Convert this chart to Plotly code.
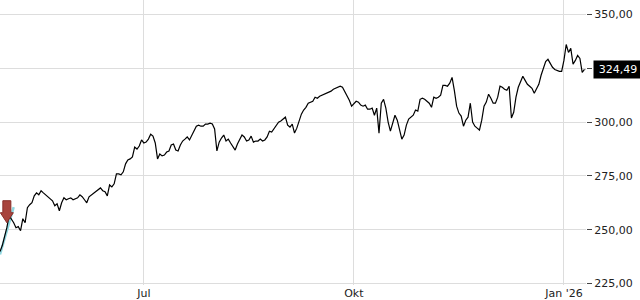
import plotly.graph_objects as go
import pandas as pd

start_date = "2025-04-29"
prices = [
    239.8, 242.6, 246.8, 250.9, 256.5, 255.1, 253.2, 250.9, 251.4, 249.5, 255.1, 253.2,
    260.2, 261.6, 262.5, 265.7, 267.1, 266.2, 268.1, 267.1, 266.2, 265.3, 264.4, 263.4,
    261.1, 262.0, 258.8, 262.5, 264.8, 263.9, 264.4, 264.8, 263.9, 264.4, 264.8, 266.2,
    265.3, 263.9, 262.5, 265.3, 266.2, 266.7, 267.6, 268.5, 269.4, 268.1, 267.6, 265.7,
    270.8, 269.9, 271.3, 275.9, 275.9, 275.5, 276.9, 280.6, 282.4, 282.9, 283.8, 288.4,
    287.5, 288.9, 291.7, 290.3, 290.7, 292.1, 294.4, 293.5, 290.3, 282.9, 285.2, 284.3,
    284.7, 286.1, 286.6, 289.4, 289.8, 287.0, 286.6, 289.4, 291.2, 292.1, 293.1, 291.7,
    294.0, 295.8, 298.1, 298.6, 298.1, 298.1, 299.1, 299.1, 299.5, 299.1, 296.8, 286.6,
    290.7, 292.6, 294.0, 291.2, 292.1, 290.3, 288.9, 287.0, 289.8, 292.1, 294.0, 293.1,
    291.2, 291.7, 293.5, 290.7, 291.2, 291.2, 292.1, 291.2, 291.7, 293.1, 295.8, 295.4,
    296.8, 298.6, 300.0, 300.5, 301.4, 302.3, 298.6, 297.7, 299.1, 294.9, 297.2, 300.5,
    303.7, 305.6, 306.9, 308.8, 309.3, 309.7, 311.6, 311.1, 312.0, 312.5, 313.0, 313.4,
    313.9, 314.4, 315.3, 315.7, 316.2, 316.7, 316.2, 314.4, 312.5, 310.2, 307.4, 308.8,
    309.7, 309.3, 307.9, 307.4, 307.9, 306.0, 306.0, 306.5, 303.2, 306.5, 294.9, 308.8,
    310.6, 306.5, 300.0, 295.8, 299.5, 303.2, 300.9, 296.3, 292.1, 294.0, 298.6, 301.4,
    302.3, 303.2, 305.6, 305.1, 310.6, 311.1, 310.6, 309.7, 308.8, 306.9, 311.6, 311.1,
    311.6, 312.5, 317.1, 317.1, 316.7, 318.1, 320.8, 314.8, 307.4, 304.2, 302.8, 298.1,
    300.9, 302.3, 308.8, 300.0, 298.1, 297.2, 296.3, 300.9, 307.4, 309.3, 313.0, 311.1,
    308.8, 308.8, 311.6, 316.7, 316.2, 315.3, 314.8, 316.7, 301.9, 304.6, 311.6, 316.2,
    318.5, 321.3, 319.4, 317.6, 316.7, 315.7, 313.4, 315.7, 317.6, 321.8, 325.0, 328.2,
    329.2, 327.3, 325.5, 324.5, 324.1, 323.6, 323.6, 328.7, 336.1, 332.4, 334.3, 326.9,
    328.7, 331.0, 329.6, 323.1, 324.49,
]
dates = pd.date_range(start_date, periods=len(prices), freq="D")

tick_dates = ["2025-07-01", "2025-10-01", "2026-01-01"]
tick_labels = ["Jul", "Okt", "Jan '26"]
y_ticks = [225, 250, 275, 300, 325, 350]

trend_dates = ["2025-04-29", "2025-05-05"]
trend_values = [238.5, 260.5]

signal_date = "2025-05-02"
signal_price = 250.9

x_range = ["2025-04-29", "2026-01-10 16:00"]
y_range = [224.26, 356.79]

last_date = dates[-1]
last_val = prices[-1]


def fmt(v):
    return f"{v:.2f}".replace(".", ",")


# the last-value box covers the tick label next to it, as in the reference
y_ticktext = ["" if abs(v - last_val) < 6 else fmt(v) for v in y_ticks]

fig = go.Figure()
fig.add_trace(go.Scatter(
    x=trend_dates, y=trend_values, mode="lines",
    line=dict(color="#8fd6df", width=2.5), hoverinfo="skip", showlegend=False,
))
fig.add_trace(go.Scatter(
    x=dates, y=prices, mode="lines",
    line=dict(color="#000000", width=1.2), showlegend=False,
))

# red down arrow signal marker
fig.add_shape(
    type="path", xref="x", yref="y", xsizemode="pixel", ysizemode="pixel",
    xanchor=signal_date, yanchor=signal_price,
    path="M 0 5 L -6.5 15 L -4 15 L -4 27 L 4 27 L 4 15 L 6.5 15 Z",
    fillcolor="#a8443d", line=dict(color="#8a2f2a", width=1), layer="above",
)

# last value pointer
fig.add_shape(
    type="path", xref="x", yref="y", xsizemode="pixel", ysizemode="pixel",
    xanchor=last_date, yanchor=last_val,
    path="M 1 0 L 8 7.5 L 8 -7.5 Z",
    fillcolor="#000000", line=dict(color="#000000", width=0), layer="above",
)
fig.add_annotation(
    xref="paper", yref="y", x=1, y=last_val, xanchor="left", yanchor="middle",
    xshift=7, showarrow=False,
    text=fmt(last_val),
    font=dict(family="DejaVu Sans", size=11, color="#ffffff"),
    bgcolor="#000000", borderpad=2, width=44, height=13, align="center",
)

fig.update_layout(
    width=640, height=300,
    margin=dict(l=0, r=54, t=0, b=15),
    paper_bgcolor="#ffffff", plot_bgcolor="#ffffff",
    font=dict(family="DejaVu Sans", size=11, color="#222222"),
    xaxis=dict(
        type="date", range=x_range, tickvals=tick_dates, ticktext=tick_labels,
        showgrid=True, gridcolor="#dddddd", gridwidth=1, ticks="",
        zeroline=False, showline=False, tickfont=dict(size=11, color="#222222"),
    ),
    yaxis=dict(
        side="right", range=y_range, tickvals=y_ticks, ticktext=y_ticktext,
        showgrid=True, gridcolor="#dddddd", gridwidth=1,
        ticks="outside", ticklen=5, tickcolor="#444444",
        zeroline=False, showline=False, tickfont=dict(size=11, color="#222222"),
    ),
)

fig.write_html("out.html")
